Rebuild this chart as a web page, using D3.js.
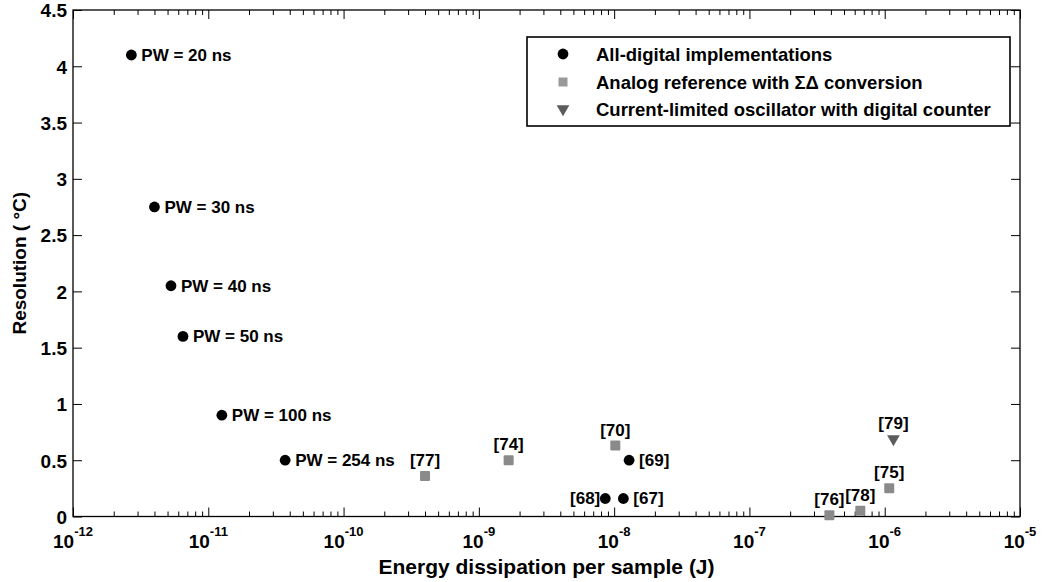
<!DOCTYPE html>
<html>
<head>
<meta charset="utf-8">
<script src="https://cdn.jsdelivr.net/npm/d3@7"></script>
<style>
  body { margin: 0; background: #fff; }
  svg text { font-family: "Liberation Sans", Arial, sans-serif; font-weight: bold; fill: #000; }
</style>
</head>
<body>
<div id="chart"></div>
<script>
// data
const digitalEnergy = [2.7e-12, 4.0e-12, 5.3e-12, 6.5e-12, 1.26e-11, 3.7e-11, 1.29e-8, 8.6e-9, 1.17e-8];
const digitalRes = [4.1, 2.75, 2.05, 1.6, 0.9, 0.5, 0.5, 0.16, 0.16];
const digitalLabels = ["PW = 20 ns", "PW = 30 ns", "PW = 40 ns", "PW = 50 ns", "PW = 100 ns", "PW = 254 ns", "[69]", "[68]", "[67]"];

const analogEnergy = [4.0e-10, 1.66e-9, 1.02e-8, 1.08e-6, 3.9e-7, 6.6e-7];
const analogRes = [0.36, 0.5, 0.63, 0.25, 0.01, 0.05];
const analogLabels = ["[77]", "[74]", "[70]", "[75]", "[76]", "[78]"];

const oscEnergy = [1.16e-6];
const oscRes = [0.69];
const oscLabels = ["[79]"];

const legendNames = ["All-digital implementations", "Analog reference with \u03A3\u0394 conversion", "Current-limited oscillator with digital counter"];
const yTicks = [0, 0.5, 1, 1.5, 2, 2.5, 3, 3.5, 4, 4.5];
const xDecades = [-12, -11, -10, -9, -8, -7, -6, -5];

const W = 1043, H = 582;
const margin = {top: 10, right: 23, bottom: 65.5, left: 73};
const iw = W - margin.left - margin.right;
const ih = H - margin.top - margin.bottom;

const svg = d3.select('#chart').append('svg')
    .attr('width', W).attr('height', H);
const g = svg.append('g').attr('transform', `translate(${margin.left},${margin.top})`);

const x = d3.scaleLog().domain([1e-12, 1e-5]).range([0, iw]);
const y = d3.scaleLinear().domain([0, 4.5]).range([ih, 0]);

// all log ticks: 1..9 per decade
const xTickVals = [];
xDecades.forEach(e => {
    for (let m = 1; m <= 9; m++) {
        if (e === -5 && m > 1) break;
        xTickVals.push(m * Math.pow(10, e));
    }
});
const isMajor = v => Math.abs(Math.log10(v) - Math.round(Math.log10(v))) < 1e-9;

function styleAxis(sel) {
    sel.select('.domain').remove();
    sel.selectAll('line').attr('stroke', '#000').attr('stroke-width', 1);
}

// bottom x axis
const xb = g.append('g').attr('transform', `translate(0,${ih})`)
    .call(d3.axisBottom(x).tickValues(xTickVals).tickSize(-5).tickFormat(''));
styleAxis(xb);
xb.selectAll('.tick line').attr('y2', d => isMajor(d) ? -9 : -5);

// top x axis
const xt = g.append('g')
    .call(d3.axisTop(x).tickValues(xTickVals).tickSize(-5).tickFormat(''));
styleAxis(xt);
xt.selectAll('.tick line').attr('y2', d => isMajor(d) ? 9 : 5);

// x labels 10^e
const xl = g.append('g').selectAll('text.xlab')
    .data(xDecades).join('text')
    .attr('class', 'xlab')
    .attr('x', d => x(Math.pow(10, d)))
    .attr('y', ih + 31.5)
    .attr('text-anchor', 'middle');
xl.append('tspan').style('font-size', '19px').text('10');
xl.append('tspan').style('font-size', '13px').attr('dy', -12).text(d => d);

// y axes
const yl = g.append('g')
    .call(d3.axisLeft(y).tickValues(yTicks).tickSize(-9).tickPadding(6).tickFormat(d => d));
styleAxis(yl);
yl.selectAll('text').style('font-size', '19px').attr('dy', '0.36em');
const yr = g.append('g').attr('transform', `translate(${iw},0)`)
    .call(d3.axisRight(y).tickValues(yTicks).tickSize(-9).tickFormat(''));
styleAxis(yr);

// frame
g.append('rect').attr('width', iw).attr('height', ih)
    .attr('fill', 'none').attr('stroke', '#000').attr('stroke-width', 1.3);

// axis titles
svg.append('text')
    .attr('x', margin.left + iw / 2).attr('y', 574)
    .attr('text-anchor', 'middle').style('font-size', '21px')
    .text('Energy dissipation per sample (J)');
svg.append('text')
    .attr('transform', `translate(26,${margin.top + ih / 2}) rotate(-90)`)
    .attr('text-anchor', 'middle').style('font-size', '19px')
    .text('Resolution ( \u00B0C)');

const toPts = (xs, ys, labs) => xs.map((v, i) => ({e: v, r: ys[i], label: labs[i]}));
const digital = toPts(digitalEnergy, digitalRes, digitalLabels);
const analog = toPts(analogEnergy, analogRes, analogLabels);
const osc = toPts(oscEnergy, oscRes, oscLabels);

const grayFill = '#8a8a8a';
const triFill = '#5c5c5c';
const tri = d3.symbol().type(d3.symbolTriangle).size(70);

// markers
g.selectAll('circle.dig').data(digital).join('circle')
    .attr('class', 'dig')
    .attr('cx', d => x(d.e)).attr('cy', d => y(d.r)).attr('r', 5.4)
    .attr('fill', '#000');

g.selectAll('rect.ana').data(analog).join('rect')
    .attr('class', 'ana')
    .attr('x', d => x(d.e) - 5).attr('y', d => y(d.r) - 5)
    .attr('width', 10).attr('height', 10).attr('rx', 1)
    .attr('fill', grayFill);

g.selectAll('path.osc').data(osc).join('path')
    .attr('class', 'osc')
    .attr('transform', d => `translate(${x(d.e)},${y(d.r)}) rotate(180)`)
    .attr('d', tri).attr('fill', triFill);

// point labels
const leftLabels = new Set(['[68]']);
g.selectAll('text.dl').data(digital).join('text')
    .attr('class', 'dl')
    .attr('x', d => leftLabels.has(d.label) ? x(d.e) - 5 : x(d.e) + 10)
    .attr('y', d => y(d.r) + 6)
    .attr('text-anchor', d => leftLabels.has(d.label) ? 'end' : 'start')
    .style('font-size', '17px')
    .text(d => d.label);

g.selectAll('text.al').data(analog.concat(osc)).join('text')
    .attr('class', 'al')
    .attr('x', d => x(d.e))
    .attr('y', d => y(d.r) - 10)
    .attr('text-anchor', 'middle')
    .style('font-size', '17px')
    .text(d => d.label);

// legend
const lg = svg.append('g').attr('transform', 'translate(527,37)');
lg.append('rect').attr('width', 483).attr('height', 89)
    .attr('fill', '#fff').attr('stroke', '#000').attr('stroke-width', 1.6);
const rows = [17, 45, 72];
lg.append('circle').attr('cx', 36).attr('cy', rows[0]).attr('r', 5.4).attr('fill', '#000');
lg.append('rect').attr('x', 31.5).attr('y', rows[1] - 4.5).attr('width', 9).attr('height', 9).attr('fill', '#999');
lg.append('path').attr('transform', `translate(36,${rows[2]}) rotate(180)`).attr('d', tri).attr('fill', triFill);
lg.selectAll('text.leg').data(legendNames).join('text')
    .attr('class', 'leg')
    .attr('x', 69).attr('y', (d, i) => rows[i] + 6.5)
    .style('font-size', '18.5px')
    .text(d => d);
</script>
</body>
</html>
